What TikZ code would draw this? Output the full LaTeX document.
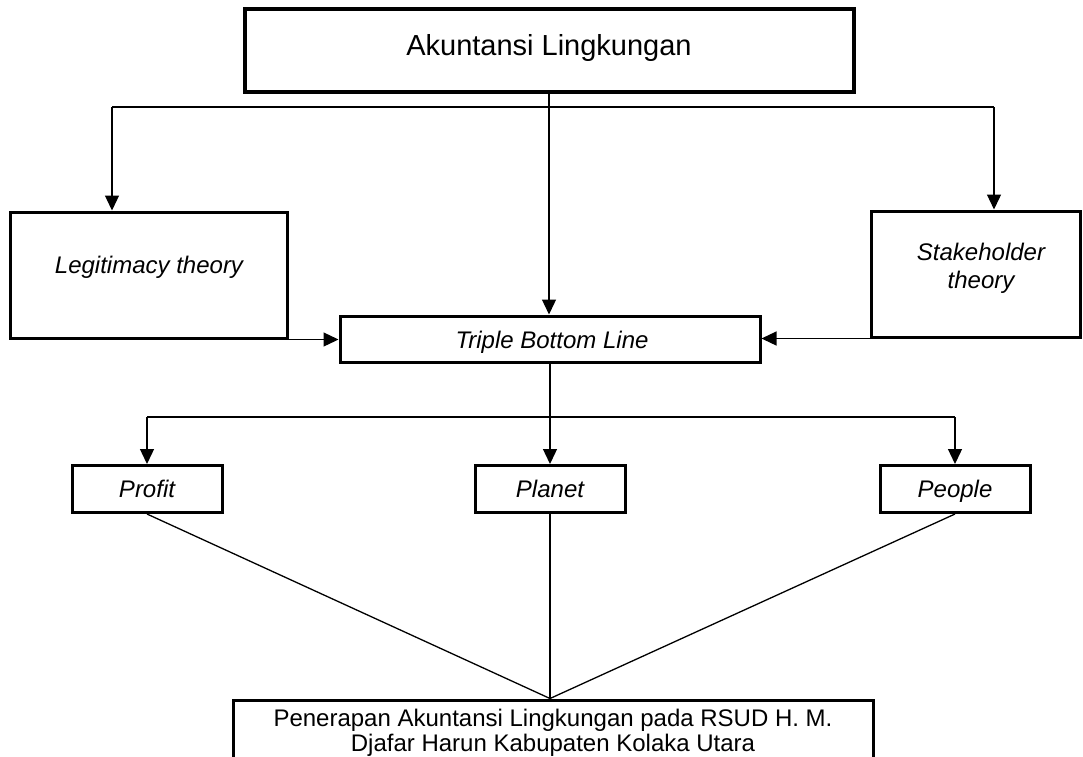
\documentclass[tikz,border=0pt]{standalone}
\usepackage{fontspec}
\setmainfont{Liberation Sans}
\usetikzlibrary{arrows.meta}
\begin{document}
\begin{tikzpicture}[x=1pt,y=-1pt,
  box/.style={draw, line width=3pt, inner sep=0pt},
  conn/.style={line width=1.3pt},
  arr/.style={conn, -{Triangle[length=15pt,width=14pt]}},
  lbl/.style={font=\fontsize{24}{28}\selectfont\itshape, inner sep=0pt, align=center, anchor=base},
  plain/.style={font=\fontsize{24}{25}\selectfont, inner sep=0pt, align=center, anchor=base},
]
\useasboundingbox (0,0) rectangle (1083,756);
\clip (0,0) rectangle (1083,756);
% boxes
\node[box, line width=4pt, minimum width=609pt, minimum height=83pt] (top) at (549,50) {};
\node[box, minimum width=277pt, minimum height=126pt] (legit) at (148.5,275) {};
\node[box, minimum width=209pt, minimum height=126pt] (stake) at (975.5,274) {};
\node[box, minimum width=420pt, minimum height=46pt] (triple) at (550,339) {};
\node[box, minimum width=150pt, minimum height=47pt] (profit) at (147,489) {};
\node[box, minimum width=150pt, minimum height=47pt] (planet) at (550,489) {};
\node[box, minimum width=150pt, minimum height=47pt] (people) at (955,489) {};
\node[box, minimum width=640pt, minimum height=120pt] (final) at (553.5,760) {};
% texts
\node[font=\fontsize{29}{34}\selectfont, inner sep=0pt, anchor=base] (ttop) at (549,55) {Akuntansi Lingkungan};
\node[lbl] (tlegit) at (149,273) {Legitimacy theory};
\node[lbl] (tstake) at (981,288) {Stakeholder\\theory};
\node[lbl] (ttriple) at (552,348) {Triple Bottom Line};
\node[lbl] (tprofit) at (147,497) {Profit};
\node[lbl] (tplanet) at (550,497) {Planet};
\node[lbl] (tpeople) at (955,497) {People};
\node[plain] (tfinal) at (553,751) {Penerapan Akuntansi Lingkungan pada RSUD H. M.\\Djafar Harun Kabupaten Kolaka Utara};
% connectors
\coordinate (hl) at (112,107);
\coordinate (hr) at (994,107);
\draw[conn] (hl) -- (hr);
\draw[arr] (hl) -- (hl |- legit.north);
\draw[arr] (hr) -- (hr |- stake.north);
\draw[arr] (top.south) -- (top.south |- triple.north);
\draw[arr] (legit.south east) -- (legit.south east -| triple.west);
\draw[arr] (stake.south west) -- (stake.south west -| triple.east);
\coordinate (ml) at (147,417);
\coordinate (mr) at (955,417);
\draw[conn] (ml) -- (mr);
\draw[arr] (triple.south) -- (triple.south |- planet.north);
\draw[arr] (ml) -- (profit.north);
\draw[arr] (mr) -- (people.north);
\coordinate (meet) at (planet.south |- final.north);
\draw[conn] (profit.south) -- (meet);
\draw[conn] (planet.south) -- (meet);
\draw[conn] (people.south) -- (meet);
\end{tikzpicture}
\end{document}
